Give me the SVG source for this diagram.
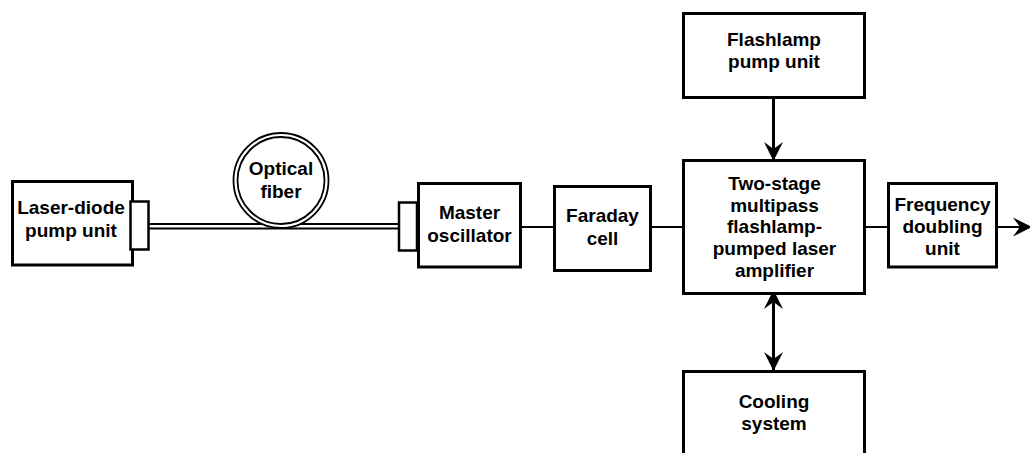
<svg xmlns="http://www.w3.org/2000/svg" width="1030" height="453" viewBox="0 0 1030 453">
<style>
.box{fill:#fff;stroke:#000;stroke-width:3}
.port{fill:#fff;stroke:#000;stroke-width:2.5}
.t{font-family:"Liberation Sans",Arial,sans-serif;font-weight:bold;font-size:19px;text-anchor:middle;fill:#000}
.ln{stroke:#000;stroke-width:2;fill:none}
.ar{stroke:#000;stroke-width:3;fill:none}
.fib{stroke:#000;stroke-width:1.8;fill:none}
</style>
<defs>
<marker id="ah" viewBox="-20 -10 21 20" refX="0" refY="0" markerWidth="21" markerHeight="20" markerUnits="userSpaceOnUse" orient="auto-start-reverse">
<path d="M0,0 L-19,-9.5 L-12,0 L-19,9.5 Z" fill="#000"/>
</marker>
</defs>
<rect width="1030" height="453" fill="#fff"/>
<g id="connectors">
<line class="fib" x1="149" y1="224" x2="399" y2="224"/>
<line class="fib" x1="149" y1="228.5" x2="399" y2="228.5"/>
<line class="ln" x1="522" y1="227" x2="554" y2="227"/>
<line class="ln" x1="652" y1="227" x2="683" y2="227"/>
<line class="ln" x1="866" y1="227" x2="888" y2="227"/>
<line class="ln" x1="998" y1="227" x2="1032" y2="227" marker-end="url(#ah)"/>
<line class="ar" x1="773.5" y1="99" x2="773.5" y2="161" marker-end="url(#ah)"/>
<line class="ar" x1="773.5" y1="290" x2="773.5" y2="371" marker-start="url(#ah)" marker-end="url(#ah)"/>
</g>
<g id="laser-diode">
<rect class="box" x="12.5" y="181.5" width="120" height="83.5"/>
<rect class="port" x="130.5" y="201.5" width="18" height="48"/>
<text class="t" x="71" y="214">Laser-diode</text>
<text class="t" x="71" y="236.5">pump unit</text>
</g>
<g id="optical-fiber">
<circle cx="281" cy="180.5" r="47.5" fill="#fff" stroke="#000" stroke-width="1.8"/>
<circle cx="281" cy="180.5" r="43.5" fill="none" stroke="#000" stroke-width="1.8"/>
<text class="t" x="281" y="175">Optical</text>
<text class="t" x="281" y="198">fiber</text>
</g>
<g id="master-oscillator">
<rect class="port" x="399" y="202.5" width="18" height="48"/>
<rect class="box" x="418.5" y="183.5" width="102" height="83.5"/>
<text class="t" x="469.5" y="219">Master</text>
<text class="t" x="469.5" y="241.5">oscillator</text>
</g>
<g id="faraday-cell">
<rect class="box" x="554.5" y="186.5" width="96" height="84"/>
<text class="t" x="602.5" y="221.5">Faraday</text>
<text class="t" x="602.5" y="244.5">cell</text>
</g>
<g id="flashlamp-pump">
<rect class="box" x="683.5" y="13.5" width="181" height="84"/>
<text class="t" x="774" y="45.5">Flashlamp</text>
<text class="t" x="774" y="68">pump unit</text>
</g>
<g id="amplifier">
<rect class="box" x="683.5" y="160.5" width="181" height="133"/>
<text class="t" x="774.5" y="190">Two-stage</text>
<text class="t" x="774.5" y="211.7">multipass</text>
<text class="t" x="774.5" y="233.4">flashlamp-</text>
<text class="t" x="774.5" y="255.1">pumped laser</text>
<text class="t" x="774.5" y="276.8">amplifier</text>
</g>
<g id="frequency-doubling">
<rect class="box" x="888.5" y="183.5" width="108" height="83.5"/>
<text class="t" x="942.5" y="210.5">Frequency</text>
<text class="t" x="942.5" y="233">doubling</text>
<text class="t" x="942.5" y="255">unit</text>
</g>
<g id="cooling-system">
<rect class="box" x="683.5" y="371.5" width="181" height="120"/>
<text class="t" x="774" y="408">Cooling</text>
<text class="t" x="774" y="430">system</text>
</g>
</svg>
